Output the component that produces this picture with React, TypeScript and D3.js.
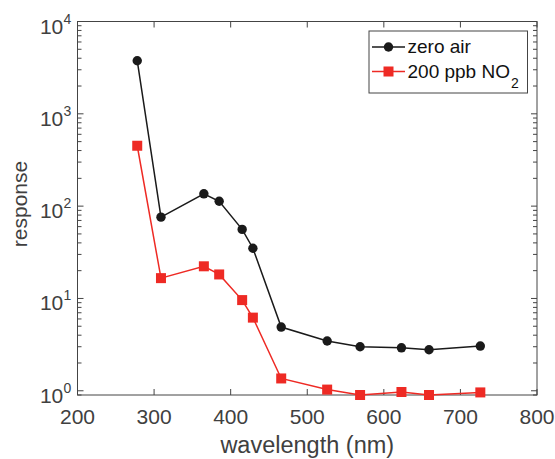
import React from "react";
import * as d3 from "d3";

const wavelengths = [278, 309, 365, 385, 415, 429, 466, 526, 569, 623, 659, 726];
const zeroAir = [3760, 76, 136, 113, 56, 35, 4.9, 3.46, 3.0, 2.92, 2.78, 3.05];
const no2 = [451, 16.6, 22.3, 18.2, 9.6, 6.2, 1.36, 1.03, 0.9, 0.97, 0.9, 0.96];
const xTicks = [200, 300, 400, 500, 600, 700, 800];
const yTicks = [1, 10, 100, 1000, 10000];
const yExps = ["0", "1", "2", "3", "4"];
const seriesNames = ["zero air", "200 ppb NO"];

const W = 555, H = 459;
const L = 77.5, R = 537, T = 21.5, B = 395;
const axisColor = "#444";
const font = "'Liberation Sans', Arial, Helvetica, sans-serif";
const black = "#1a1a1a";
const red = "#ee2a24";
const textColor = "#404040";

export default function App() {
  const x = d3.scaleLinear().domain([200, 800]).range([L, R]);
  const y = d3.scaleLog().domain([0.9, 10000]).range([B, T]);
  const line = d3.line<number>().x((_, i) => x(wavelengths[i])).y((v) => y(v));

  const minor: number[] = [];
  for (let d = 0; d < 4; d++) {
    for (let k = 2; k <= 9; k++) minor.push(k * Math.pow(10, d));
  }
  minor.push(0.9);

  return (
    <svg width={W} height={H} style={{ position: "absolute", left: 0, top: 0 }}>
      <rect x={0} y={0} width={W} height={H} fill="#fff" />
      {xTicks.map((t) => (
        <g key={"xt" + t}>
          <line x1={x(t)} x2={x(t)} y1={B} y2={B - 6} stroke={axisColor} />
          <line x1={x(t)} x2={x(t)} y1={T} y2={T + 6} stroke={axisColor} />
          <text x={x(t)} y={B + 29} fontSize={21} fill={textColor} textAnchor="middle" fontFamily={font}>{t}</text>
        </g>
      ))}
      {yTicks.map((t, i) => (
        <g key={"yt" + t}>
          <line x1={L} x2={L + 6} y1={y(t)} y2={y(t)} stroke={axisColor} />
          <line x1={R} x2={R - 6} y1={y(t)} y2={y(t)} stroke={axisColor} />
          <text x={63.3} y={y(t) + 12} fontSize={21} fill={textColor} textAnchor="end" fontFamily={font}>10</text>
          <text x={63.5} y={y(t) + 2} fontSize={14} fill={textColor} textAnchor="start" fontFamily={font}>{yExps[i]}</text>
        </g>
      ))}
      {minor.filter((t) => y(t) >= T - 0.5 && y(t) <= B + 0.5).map((t) => (
        <g key={"ym" + t}>
          <line x1={L} x2={L + 4} y1={y(t)} y2={y(t)} stroke={axisColor} />
          <line x1={R} x2={R - 4} y1={y(t)} y2={y(t)} stroke={axisColor} />
        </g>
      ))}
      <rect x={L} y={T} width={R - L} height={B - T} fill="none" stroke={axisColor} strokeWidth={1} />
      <path d={line(zeroAir) || ""} fill="none" stroke={black} strokeWidth={1.5} />
      {zeroAir.map((v, i) => (
        <circle key={"c" + i} cx={x(wavelengths[i])} cy={y(v)} r={4.7} fill={black} />
      ))}
      <path d={line(no2) || ""} fill="none" stroke={red} strokeWidth={1.5} />
      {no2.map((v, i) => (
        <rect key={"s" + i} x={x(wavelengths[i]) - 5} y={y(v) - 5} width={10} height={10} fill={red} />
      ))}
      <text x={(L + R) / 2} y={453} fontSize={23.5} fill={textColor} textAnchor="middle" fontFamily={font}>wavelength (nm)</text>
      <text transform={`translate(27,204) rotate(-90)`} fontSize={21} fill={textColor} textAnchor="middle" fontFamily={font}>response</text>
      <rect x={369} y={31} width={158.5} height={62} fill="#fff" stroke={axisColor} />
      <line x1={372} x2={405} y1={47} y2={47} stroke={black} strokeWidth={1.5} />
      <circle cx={388.5} cy={47} r={4.7} fill={black} />
      <text x={407.5} y={53.3} fontSize={19} fill="#111" fontFamily={font}>{seriesNames[0]}</text>
      <line x1={372} x2={405} y1={71.5} y2={71.5} stroke={red} strokeWidth={1.5} />
      <rect x={383.5} y={66.5} width={10} height={10} fill={red} />
      <text x={407.5} y={77.7} fontSize={19} fill="#111" fontFamily={font}>
        {seriesNames[1]}
        <tspan fontSize={14} dx={1} dy={10.6}>2</tspan>
      </text>
    </svg>
  );
}
